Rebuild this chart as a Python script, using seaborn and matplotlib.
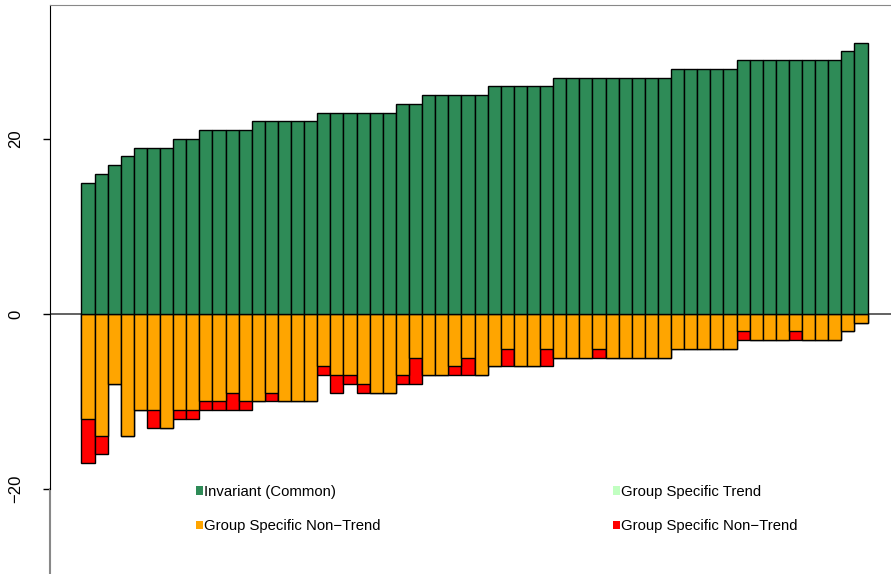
import numpy as np
import pandas as pd
import matplotlib
matplotlib.use("Agg")
import matplotlib.pyplot as plt
from matplotlib.patches import Patch
import seaborn as sns

# values (60 bars, sorted by invariant part)
invariant = [15, 16, 17, 18, 19, 19, 19, 20, 20, 21, 21, 21, 21, 22, 22, 22, 22, 22,
             23, 23, 23, 23, 23, 23, 24, 24, 25, 25, 25, 25, 25, 26, 26, 26, 26, 26,
             27, 27, 27, 27, 27, 27, 27, 27, 27, 28, 28, 28, 28, 28,
             29, 29, 29, 29, 29, 29, 29, 29, 30, 31]
non_trend = [12, 14, 8, 14, 11, 11, 13, 11, 11, 10, 10, 9, 10, 10, 9, 10, 10, 10,
             6, 7, 7, 8, 9, 9, 7, 5, 7, 7, 6, 5, 7, 6, 4, 6, 6, 4,
             5, 5, 5, 4, 5, 5, 5, 5, 5, 4, 4, 4, 4, 4,
             2, 3, 3, 3, 2, 3, 3, 3, 2, 1]
non_trend_red = [5, 2, 0, 0, 0, 2, 0, 1, 1, 1, 1, 2, 1, 0, 1, 0, 0, 0,
                 1, 2, 1, 1, 0, 0, 1, 3, 0, 0, 1, 2, 0, 0, 2, 0, 0, 2,
                 0, 0, 0, 1, 0, 0, 0, 0, 0, 0, 0, 0, 0, 0,
                 1, 0, 0, 0, 1, 0, 0, 0, 0, 0]
legend_labels = ["Invariant (Common)", "Group Specific Non\u2212Trend",
                 "Group Specific Trend", "Group Specific Non\u2212Trend"]

green = "#2E8B57"
orange = "#FFA500"
red = "#FF0000"
light_green = "#C1FFC1"

df = pd.DataFrame({"id": np.arange(len(invariant)),
                   "inv": invariant,
                   "nt": -np.array(non_trend),
                   "total": -(np.array(non_trend) + np.array(non_trend_red))})

plt.rcParams["font.family"] = ["Liberation Sans", "DejaVu Sans"]
fig = plt.figure(figsize=(8.91, 5.74), dpi=100)
ax = fig.add_axes([50 / 891, -0.0501, 849 / 891, 1.0414])

# red = full negative total, orange drawn over it from 0
bar_kw = dict(width=1, saturation=1, edgecolor="black", linewidth=1, ax=ax)
sns.barplot(data=df, x="id", y="total", color=red, **bar_kw)
sns.barplot(data=df, x="id", y="nt", color=orange, **bar_kw)
sns.barplot(data=df, x="id", y="inv", color=green, **bar_kw)

ax.set_xlim(-2.9, 61.9)
ax.set_ylim(-33, 35.3)
ax.axhline(0, color="#555555", lw=1.3, zorder=0)

ax.set_xlabel("")
ax.set_ylabel("")
ax.set_xticks([])
ax.set_yticks([-20, 0, 20])
ax.set_yticklabels(["\u221220", "0", "20"], rotation=90, va="center", fontsize=12)
ax.tick_params(axis="y", length=5, width=1, pad=14, colors="black")

for s in ["right", "bottom"]:
    ax.spines[s].set_visible(False)
ax.spines["top"].set_color("#888888")
ax.spines["left"].set_color("black")
ax.spines["left"].set_bounds(-20, 35.3)
ax.axvline(-2.9, ymin=0, ymax=(-20 + 33) / 68.3, color="#888888", lw=1.5, clip_on=False)

handles = [Patch(facecolor=c, edgecolor="none") for c in [green, orange, light_green, red]]
fig.legend(handles, legend_labels, loc="upper left", bbox_to_anchor=(196 / 891, 1 - 485 / 574),
           ncol=2, frameon=False, fontsize=10.7, handlelength=0.5, handleheight=0.5,
           handletextpad=0.05, columnspacing=15.6, labelspacing=1.35, borderpad=0,
           borderaxespad=0)

fig.savefig("out.png", dpi=100)
